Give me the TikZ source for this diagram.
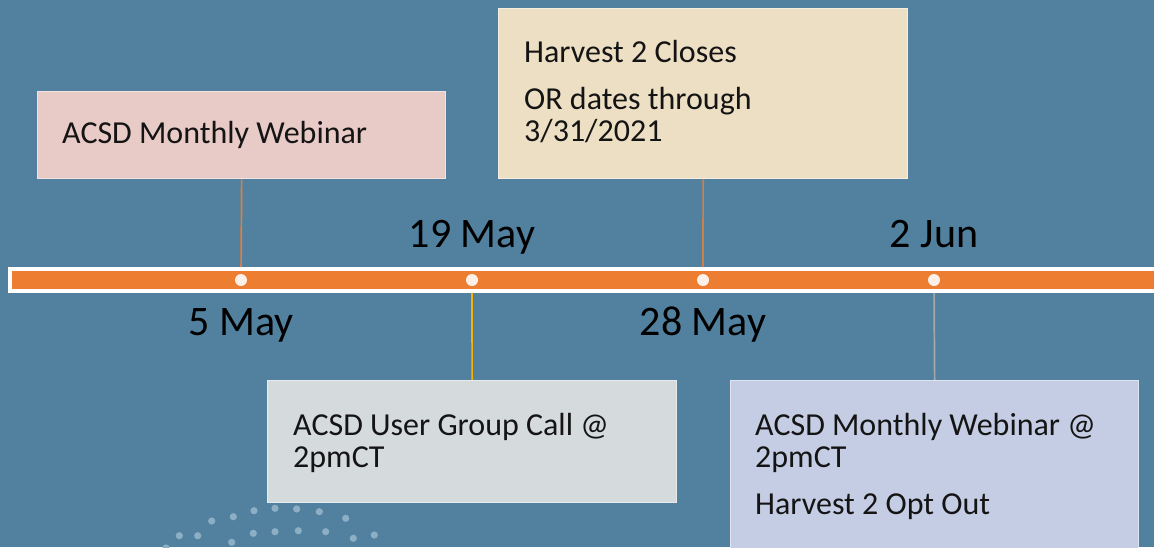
\documentclass[tikz,border=0pt]{standalone}
\usepackage{fontspec}
\setmainfont{Carlito}
\usetikzlibrary{backgrounds}
\definecolor{bgc}{HTML}{51819F}
\definecolor{orng}{HTML}{ED7D31}
\definecolor{tickc}{HTML}{FCF0E8}
\definecolor{pinkc}{HTML}{E8CAC7}
\definecolor{beigec}{HTML}{EDDFC4}
\definecolor{grayc}{HTML}{D5DADD}
\definecolor{lavc}{HTML}{C5CDE4}
\definecolor{cA}{HTML}{E07F3C}
\definecolor{cB}{HTML}{F5B400}
\definecolor{cC}{HTML}{D08045}
\definecolor{cD}{HTML}{A5A8AC}
\definecolor{decoc}{HTML}{8DAFC5}
\begin{document}
\begin{tikzpicture}[x=1pt,y=-1pt,
  evbox/.style={rectangle, anchor=north west, inner sep=0pt, fill=#1, draw=#1!55!white, line width=1.3pt},
  txt/.style={anchor=base west, inner sep=0pt, font=\fontsize{32}{32}\selectfont, text=black!92},
  datelbl/.style={anchor=base, inner sep=0pt, font=\fontsize{42}{42}\selectfont, text=black},
  tickdot/.style={circle, fill=tickc, inner sep=0pt, minimum size=12pt},
  conn/.style={line width=1.7pt},
  deco/.style={fill=decoc}]
\useasboundingbox (0,0) rectangle (1154,547);

% boxes
\node[evbox=pinkc, minimum width=408pt, minimum height=87pt] (b1) at (37,91) {};
\node[evbox=beigec, minimum width=409pt, minimum height=170pt] (b2) at (498,8) {};
\node[evbox=grayc, minimum width=409pt, minimum height=122pt] (b3) at (267,380) {};
\node[evbox=lavc, minimum width=408pt, minimum height=175pt] (b4) at (730,380) {};

% timeline
\fill[white] (8,267) rectangle (1154,293);
\fill[orng] (12,271) rectangle (1154,288.5);

% ticks
\node[tickdot] (t1) at (241,280) {};
\node[tickdot] (t2) at (472,280) {};
\node[tickdot] (t3) at (703,280) {};
\node[tickdot] (t4) at (934,280) {};

\begin{scope}[on background layer]
\fill[bgc] (0,0) rectangle (1154,547);
\draw[conn, cA] (b1.south) -- (t1.center);
\draw[conn, cB] (b3.north) -- (t2.center);
\draw[conn, cC] (b2.south) -- (t3.center);
\draw[conn, cD] (b4.north) -- (t4.center);
\end{scope}

% date labels
\node[datelbl] (d1) at (241,335) {5 May};
\node[datelbl] (d2) at (472,247) {19 May};
\node[datelbl] (d3) at (703,335) {28 May};
\node[datelbl] (d4) at (934,247) {2 Jun};

% box texts
\node[txt] (l1) at (62,143) {ACSD Monthly Webinar};
\node[txt] (l2a) at (524,62) {Harvest 2 Closes};
\node[txt] (l2b) at (524,109) {OR dates through};
\node[txt] (l2c) at (524,141) {3/31/2021};
\node[txt] (l3a) at (293,435) {ACSD User Group Call @};
\node[txt] (l3b) at (293,467) {2pmCT};
\node[txt] (l4a) at (755,435) {ACSD Monthly Webinar @};
\node[txt] (l4b) at (755,467) {2pmCT};
\node[txt] (l4c) at (755,514) {Harvest 2 Opt Out};

% decorative dots
\foreach \x/\y in {211.7/521, 233.3/516.7, 254/510.7, 275/508.3, 296.7/509, 319.3/511.7, 345.7/518.3,
  179.3/535.7, 197.7/535.7, 231.7/542.3, 253.3/533.3, 275/531.7, 298.3/530.7, 325.7/531.7, 353.3/538.3, 374.3/535, 166/548}
  \fill[deco] (\x,\y) circle (3.6pt);
\end{tikzpicture}
\end{document}
